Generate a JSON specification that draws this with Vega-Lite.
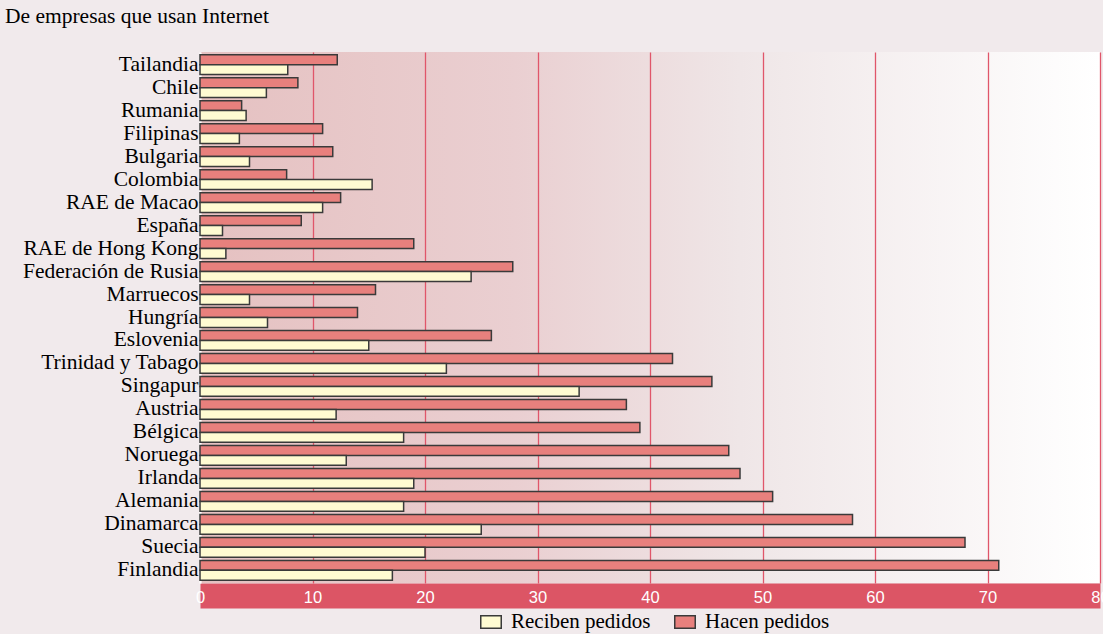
{
  "$schema": "https://vega.github.io/schema/vega-lite/v6.json",
  "width": 900,
  "height": 531,
  "autosize": {"type": "none"},
  "padding": {"left": 200, "top": 52, "right": 3, "bottom": 51},
  "background": "#f1eaec",
  "title": {
    "text": "De empresas que usan Internet",
    "anchor": "start",
    "frame": "group",
    "dx": -195,
    "offset": 8,
    "baseline": "alphabetic",
    "font": "Liberation Serif",
    "fontSize": 21.5,
    "fontWeight": "normal",
    "color": "#000000"
  },
  "data": {
    "values": [
      {"pais": "Tailandia", "serie": "Hacen pedidos", "valor": 12.2},
      {"pais": "Tailandia", "serie": "Reciben pedidos", "valor": 7.8},
      {"pais": "Chile", "serie": "Hacen pedidos", "valor": 8.7},
      {"pais": "Chile", "serie": "Reciben pedidos", "valor": 5.9},
      {"pais": "Rumania", "serie": "Hacen pedidos", "valor": 3.7},
      {"pais": "Rumania", "serie": "Reciben pedidos", "valor": 4.1},
      {"pais": "Filipinas", "serie": "Hacen pedidos", "valor": 10.9},
      {"pais": "Filipinas", "serie": "Reciben pedidos", "valor": 3.5},
      {"pais": "Bulgaria", "serie": "Hacen pedidos", "valor": 11.8},
      {"pais": "Bulgaria", "serie": "Reciben pedidos", "valor": 4.4},
      {"pais": "Colombia", "serie": "Hacen pedidos", "valor": 7.7},
      {"pais": "Colombia", "serie": "Reciben pedidos", "valor": 15.3},
      {"pais": "RAE de Macao", "serie": "Hacen pedidos", "valor": 12.5},
      {"pais": "RAE de Macao", "serie": "Reciben pedidos", "valor": 10.9},
      {"pais": "España", "serie": "Hacen pedidos", "valor": 9.0},
      {"pais": "España", "serie": "Reciben pedidos", "valor": 2.0},
      {"pais": "RAE de Hong Kong", "serie": "Hacen pedidos", "valor": 19.0},
      {"pais": "RAE de Hong Kong", "serie": "Reciben pedidos", "valor": 2.3},
      {"pais": "Federación de Rusia", "serie": "Hacen pedidos", "valor": 27.8},
      {"pais": "Federación de Rusia", "serie": "Reciben pedidos", "valor": 24.1},
      {"pais": "Marruecos", "serie": "Hacen pedidos", "valor": 15.6},
      {"pais": "Marruecos", "serie": "Reciben pedidos", "valor": 4.4},
      {"pais": "Hungría", "serie": "Hacen pedidos", "valor": 14.0},
      {"pais": "Hungría", "serie": "Reciben pedidos", "valor": 6.0},
      {"pais": "Eslovenia", "serie": "Hacen pedidos", "valor": 25.9},
      {"pais": "Eslovenia", "serie": "Reciben pedidos", "valor": 15.0},
      {"pais": "Trinidad y Tabago", "serie": "Hacen pedidos", "valor": 42.0},
      {"pais": "Trinidad y Tabago", "serie": "Reciben pedidos", "valor": 21.9},
      {"pais": "Singapur", "serie": "Hacen pedidos", "valor": 45.5},
      {"pais": "Singapur", "serie": "Reciben pedidos", "valor": 33.7},
      {"pais": "Austria", "serie": "Hacen pedidos", "valor": 37.9},
      {"pais": "Austria", "serie": "Reciben pedidos", "valor": 12.1},
      {"pais": "Bélgica", "serie": "Hacen pedidos", "valor": 39.1},
      {"pais": "Bélgica", "serie": "Reciben pedidos", "valor": 18.1},
      {"pais": "Noruega", "serie": "Hacen pedidos", "valor": 47.0},
      {"pais": "Noruega", "serie": "Reciben pedidos", "valor": 13.0},
      {"pais": "Irlanda", "serie": "Hacen pedidos", "valor": 48.0},
      {"pais": "Irlanda", "serie": "Reciben pedidos", "valor": 19.0},
      {"pais": "Alemania", "serie": "Hacen pedidos", "valor": 50.9},
      {"pais": "Alemania", "serie": "Reciben pedidos", "valor": 18.1},
      {"pais": "Dinamarca", "serie": "Hacen pedidos", "valor": 58.0},
      {"pais": "Dinamarca", "serie": "Reciben pedidos", "valor": 25.0},
      {"pais": "Suecia", "serie": "Hacen pedidos", "valor": 68.0},
      {"pais": "Suecia", "serie": "Reciben pedidos", "valor": 20.0},
      {"pais": "Finlandia", "serie": "Hacen pedidos", "valor": 71.0},
      {"pais": "Finlandia", "serie": "Reciben pedidos", "valor": 17.1}
    ]
  },
  "encoding": {
    "y": {
      "field": "pais",
      "type": "nominal",
      "sort": null,
      "scale": {"paddingInner": 0.14, "paddingOuter": 0.12},
      "axis": {
        "title": null,
        "ticks": false,
        "domainColor": "#ffffff",
        "domainWidth": 2,
        "labelFont": "Liberation Serif",
        "labelFontSize": 21.5,
        "labelColor": "#000000",
        "labelPadding": 2,
        "labelLimit": 300
      }
    },
    "yOffset": {
      "field": "serie",
      "type": "nominal",
      "sort": ["Hacen pedidos", "Reciben pedidos"],
      "scale": {"domain": ["Hacen pedidos", "Reciben pedidos"], "paddingInner": 0, "paddingOuter": 0}
    },
    "color": {
      "field": "serie",
      "type": "nominal",
      "scale": {
        "domain": ["Reciben pedidos", "Hacen pedidos"],
        "range": ["#fffbd2", "#e8807d"]
      },
      "legend": {
        "title": null,
        "orient": "none",
        "legendX": 278,
        "legendY": 557,
        "direction": "horizontal",
        "symbolType": "M-1,-0.62L1,-0.62L1,0.62L-1,0.62Z",
        "symbolSize": 420,
        "symbolStrokeColor": "#3a3a3a",
        "symbolStrokeWidth": 1.5,
        "symbolOpacity": 1,
        "labelFont": "Liberation Serif",
        "labelFontSize": 21,
        "labelColor": "#000000",
        "labelOffset": 9,
        "columnPadding": 20,
        "padding": 2
      }
    }
  },
  "layer": [
    {
      "transform": [{"filter": "datum.serie === 'Hacen pedidos'"}],
      "mark": {"type": "bar", "stroke": "#3a3a3a", "strokeWidth": 1.5},
      "encoding": {
        "x": {
          "field": "valor",
          "type": "quantitative",
          "scale": {"domain": [0, 80], "nice": false},
          "axis": {
            "title": null,
            "values": [0, 10, 20, 30, 40, 50, 60, 70, 80],
            "grid": true,
            "gridColor": {"condition": {"test": "datum.value === 0", "value": "#ffffff"}, "value": "#e0566a"},
            "gridWidth": 1.3,
            "ticks": false,
            "labels": false,
            "offset": 12.5,
            "domainColor": "#dc5565",
            "domainWidth": 25,
            "domainCap": "butt"
          }
        }
      }
    },
    {
      "transform": [{"filter": "datum.serie === 'Reciben pedidos'"}],
      "mark": {"type": "bar", "stroke": "#3a3a3a", "strokeWidth": 1.5},
      "encoding": {
        "x": {
          "field": "valor",
          "type": "quantitative",
          "scale": {"domain": [0, 80], "nice": false},
          "axis": {
            "title": null,
            "orient": "bottom",
            "zindex": 2,
            "values": [0, 10, 20, 30, 40, 50, 60, 70, 80],
            "grid": false,
            "domain": false,
            "ticks": false,
            "tickSize": 0,
            "offset": 14,
            "labelColor": "#ffffff",
            "labelFont": "Liberation Sans",
            "labelFontSize": 16.5,
            "labelBaseline": "middle",
            "labelPadding": 0,
            "labelFlush": false,
            "labelOverlap": false
          }
        }
      }
    }
  ],
  "resolve": {"axis": {"x": "independent"}},
  "config": {
    "view": {
      "stroke": null,
      "fill": {
        "gradient": "linear",
        "x1": 0, "y1": 0, "x2": 1, "y2": 0,
        "stops": [
          {"offset": 0, "color": "#e5c1c1"},
          {"offset": 0.35, "color": "#eacfd1"},
          {"offset": 0.6, "color": "#efe6e7"},
          {"offset": 1, "color": "#ffffff"}
        ]
      }
    }
  }
}
